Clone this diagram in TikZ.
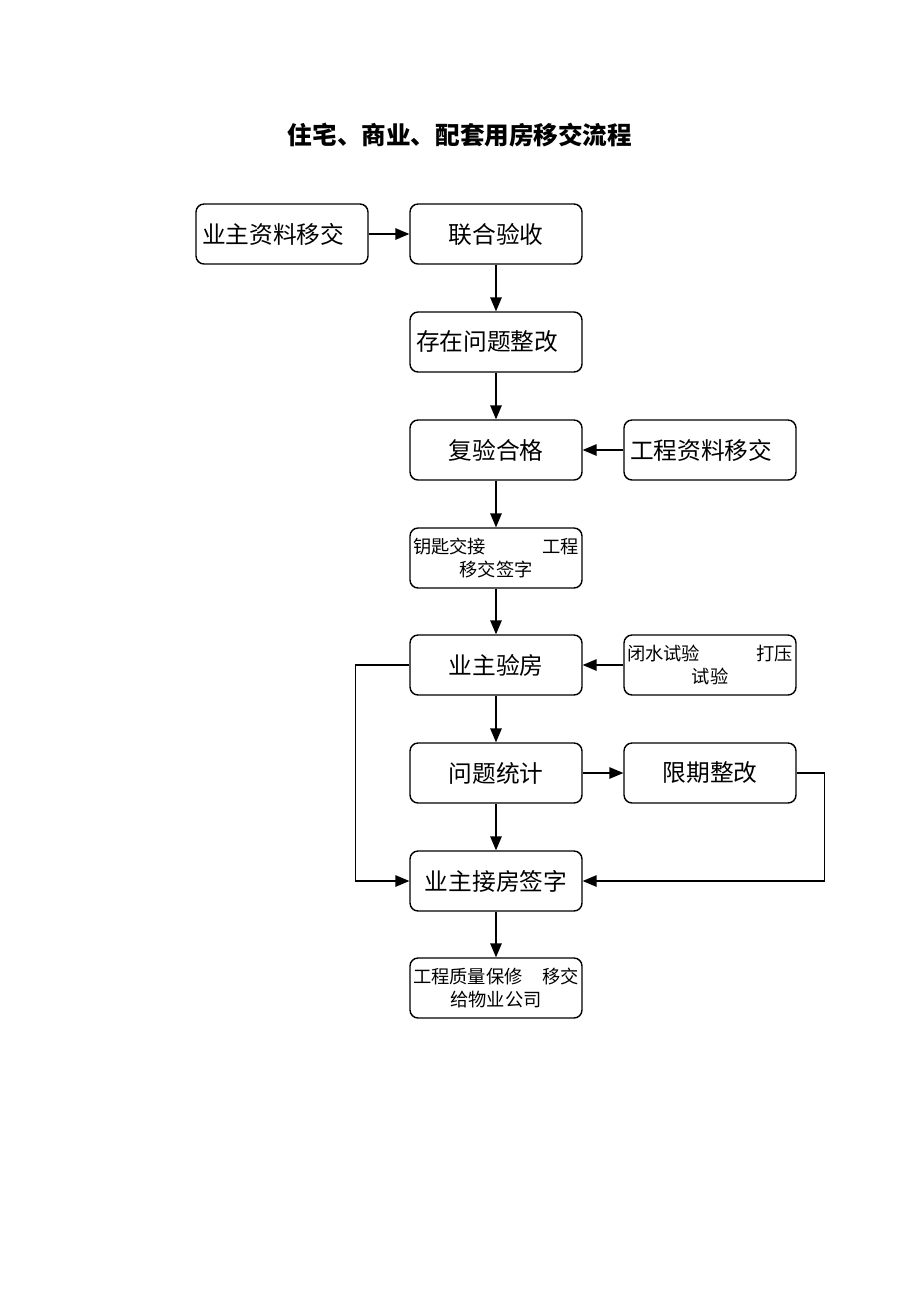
\documentclass[tikz,border=0pt]{standalone}
\usepackage{fontspec}
\newfontfamily\cjk{Noto Sans CJK SC}
\usepackage{tikz}
\usetikzlibrary{arrows}

\begin{document}
\begin{tikzpicture}[x=0.02cm,y=-0.02cm,
	flow_box/.style={rectangle,rounded corners=0.16cm,draw,thick,minimum width=3.44cm,minimum height=1.2cm,inner sep=2pt,font=\cjk\fontsize{13.5}{16}\selectfont},
	flow_left/.style={flow_box,text width=3.2cm,align=left},
	flow_two/.style={flow_box,align=center,inner xsep=0.06cm,font=\cjk\fontsize{10.4}{13.5}\selectfont},
	flow_arrow/.style={thick,-triangle 45}]
		\useasboundingbox (0,0) rectangle (920,1302);
		
		\node[font=\cjk\bfseries\fontsize{14}{17}\selectfont] (title) at (460,135) {住宅、商业、配套用房移交流程};
		
		\node[flow_left] (1) at (282,234) {业主资料移交};
		\node[flow_box] (2) at (496,234) {联合验收};
		\node[flow_left] (3) at (496,342) {存在问题整改};
		\node[flow_box] (4) at (496,450) {复验合格};
		\node[flow_left] (5) at (710,450) {工程资料移交};
		\node[flow_two] (6) at (496,558) {\makebox[3.32cm]{钥匙交接\hfill 工程}\\移交签字};
		\node[flow_box] (7) at (496,665) {业主验房};
		\node[flow_two] (8) at (710,665) {\makebox[3.32cm]{闭水试验\hfill 打压}\\试验};
		\node[flow_box] (9) at (496,773) {问题统计};
		\node[flow_box] (10) at (710,773) {限期整改};
		\node[flow_box] (11) at (496,881) {业主接房签字};
		\node[flow_two] (12) at (496,988) {\makebox[3.32cm]{工程质量保修\hfill 移交}\\给物业公司};
		
		\draw[flow_arrow] (1) -- (2);
		\draw[flow_arrow] (2) -- (3);
		\draw[flow_arrow] (3) -- (4);
		\draw[flow_arrow] (5) -- (4);
		\draw[flow_arrow] (4) -- (6);
		\draw[flow_arrow] (6) -- (7);
		\draw[flow_arrow] (8) -- (7);
		\draw[flow_arrow] (7) -- (9);
		\draw[flow_arrow] (9) -- (10);
		\draw[flow_arrow] (9) -- (11);
		\draw[flow_arrow] (11) -- (12);
		\draw[flow_arrow] (7.west) -- ++(-54,0) |- (11.west);
		\draw[flow_arrow] (10.east) -- ++(28,0) |- (11.east);
		\end{tikzpicture}
\end{document}
